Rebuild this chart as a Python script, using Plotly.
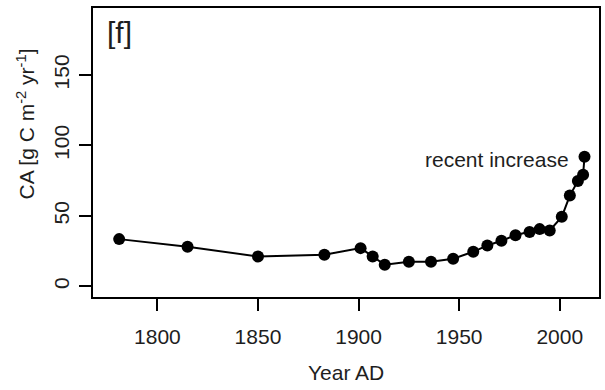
import plotly.graph_objects as go

# Carbon accumulation record
years = [1781, 1815, 1850, 1883, 1901, 1907, 1913, 1925, 1936, 1947, 1957,
         1964, 1971, 1978, 1985, 1990, 1995, 2001, 2005, 2009, 2011.6, 2012.3]
ca = [33.5, 28.1, 21.2, 22.4, 27.1, 21.2, 15.3, 17.5, 17.5, 19.6, 24.5,
      29.0, 32.3, 36.3, 38.5, 40.6, 39.6, 49.3, 64.4, 74.8, 79.2, 92.0]

x_ticks = [1800, 1850, 1900, 1950, 2000]
y_ticks = [0, 50, 100, 150]

FONT = "Liberation Sans, Arial, sans-serif"
INK = "#1e1e1e"

fig = go.Figure()
fig.add_trace(go.Scatter(
    x=years, y=ca, mode="lines+markers",
    line=dict(color="black", width=2),
    marker=dict(color="black", size=12),
    showlegend=False, hoverinfo="x+y",
))

axis_common = dict(
    showline=True, linecolor="black", linewidth=2, mirror=True,
    ticks="outside", ticklen=12, tickwidth=2, tickcolor="black",
    showgrid=False, zeroline=False,
    tickfont=dict(family=FONT, size=21, color=INK),
)

fig.update_layout(
    width=605, height=390,
    margin=dict(l=93, r=4, t=8, b=93),
    paper_bgcolor="white", plot_bgcolor="white",
    font=dict(family=FONT, color=INK),
    xaxis=dict(range=[1768, 2019.5], tickvals=x_ticks, ticklabelstandoff=8,
               **axis_common),
    yaxis=dict(range=[-7.6, 197.6], tickvals=y_ticks, tickangle=-90,
               ticklabelstandoff=2, **axis_common),
    annotations=[
        dict(text="[f]", xref="paper", yref="paper", x=0.0, y=1.0,
             xshift=12, yshift=-6, xanchor="left", yanchor="top",
             showarrow=False, font=dict(family=FONT, size=30, color=INK)),
        dict(text="recent increase", x=2005.5, y=90, xref="x", yref="y",
             xanchor="right", yanchor="middle", showarrow=False,
             font=dict(family=FONT, size=21, color=INK)),
        dict(text="Year AD", xref="paper", yref="paper", x=0.5, y=0,
             yshift=-75, xanchor="center", yanchor="middle", showarrow=False,
             font=dict(family=FONT, size=21, color=INK)),
        dict(text="CA [g C m<sup>-2</sup> yr<sup>-1</sup>]", xref="paper", yref="paper",
             x=0, y=0.5, xshift=-68, yshift=28, textangle=-90,
             xanchor="center", yanchor="middle", showarrow=False,
             font=dict(family=FONT, size=21, color=INK)),
    ],
)

fig.write_html("out.html")
